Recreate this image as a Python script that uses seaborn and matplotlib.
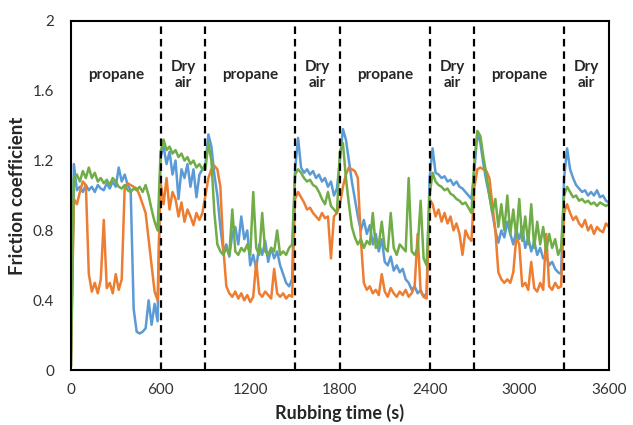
import numpy as np
import pandas as pd
import matplotlib
matplotlib.use('Agg')
import matplotlib.pyplot as plt
import seaborn as sns

# rubbing time, one reading every 20 s
time_s = list(range(0, 3601, 20))

# friction coefficient, one list per test
blue = [
    # 0-580 propane
    0.02, 1.18, 1.03, 1.05, 1.02, 1.06, 1.03, 1.05, 1.02, 1.06, 1.04, 1.03, 1.07, 1.04, 1.08,
    1.05, 1.16, 1.08, 1.12, 1.06, 1.03, 0.35, 0.22, 0.21, 0.22, 0.24, 0.40, 0.26, 0.38, 0.28,
    # 600-880 dry air
    1.22, 1.28, 1.18, 1.25, 1.12, 1.20, 0.98, 1.15, 1.10, 1.18, 1.05, 1.15, 0.99, 1.12, 1.15,
    # 900-1480 propane
    1.18, 1.35, 1.28, 1.12, 1.00, 0.82, 0.68, 0.72, 0.65, 0.78, 0.82, 0.72, 0.88, 0.75, 0.80,
    0.60, 0.66, 0.58, 0.72, 0.66, 0.74, 0.62, 0.70, 0.64, 0.68, 0.60, 0.55, 0.50, 0.48, 0.52,
    # 1500-1780 dry air
    1.15, 1.33, 1.16, 1.13, 1.15, 1.12, 1.14, 1.10, 1.12, 1.08, 1.10, 1.05, 1.08, 1.00, 1.04,
    # 1800-2380 propane
    1.20, 1.38, 1.32, 1.20, 1.08, 0.98, 0.88, 0.80, 0.86, 0.78, 0.83, 0.72, 0.78, 0.68, 0.75,
    0.62, 0.60, 0.65, 0.57, 0.60, 0.56, 0.58, 0.52, 0.50, 0.46, 0.48, 0.44, 0.46, 0.42, 0.44,
    # 2400-2680 dry air
    1.10, 1.27, 1.13, 1.12, 1.10, 1.11, 1.08, 1.09, 1.06, 1.08, 1.05, 1.04, 1.02, 1.00, 0.98,
    # 2700-3280 propane
    1.15, 1.36, 1.30, 1.18, 1.08, 1.00, 0.90, 0.80, 0.73, 0.80, 0.76, 0.85, 0.78, 0.72, 0.80,
    0.75, 0.82, 0.70, 0.76, 0.68, 0.74, 0.66, 0.70, 0.64, 0.66, 0.60, 0.62, 0.58, 0.56, 0.55,
    # 3300-3600 dry air
    1.10, 1.27, 1.15, 1.10, 1.06, 1.04, 1.02, 1.03, 1.00, 1.02, 1.00, 1.03, 0.99, 1.00, 0.97, 0.96,
]

orange = [
    0.02, 0.98, 0.95, 1.02, 1.08, 1.06, 0.55, 0.45, 0.50, 0.44, 0.52, 0.86, 0.47, 0.50, 0.44,
    0.55, 0.46, 0.52, 1.05, 1.07, 1.06, 1.05, 1.04, 1.00, 0.95, 0.90, 0.75, 0.60, 0.45, 0.40,
    1.08, 0.95, 1.10, 0.92, 1.02, 0.98, 0.88, 0.96, 0.85, 0.92, 0.88, 0.83, 0.90, 0.86, 0.90,
    1.00, 1.10, 1.15, 1.17, 1.15, 1.05, 0.70, 0.48, 0.44, 0.42, 0.45, 0.41, 0.44, 0.40, 0.43,
    0.39, 0.42, 0.62, 0.44, 0.42, 0.45, 0.43, 0.41, 0.58, 0.44, 0.42, 0.44, 0.41, 0.43, 0.42,
    0.98, 1.02, 0.99, 0.96, 0.92, 0.93, 0.90, 0.88, 0.86, 0.90, 0.87, 0.88, 0.64, 0.88, 0.90,
    0.95, 1.05, 1.12, 1.16, 1.15, 1.14, 1.10, 0.75, 0.50, 0.46, 0.48, 0.44, 0.46, 0.43, 0.55,
    0.45, 0.42, 0.47, 0.44, 0.42, 0.45, 0.43, 0.46, 0.42, 0.44, 0.48, 0.78, 0.45, 0.42, 0.41,
    0.98, 0.95, 0.88, 0.92, 0.85, 0.90, 0.84, 0.88, 0.80, 0.84, 0.78, 0.66, 0.80, 0.76, 0.74,
    1.05, 1.15, 1.16, 1.15, 1.14, 1.10, 0.95, 0.80, 0.56, 0.52, 0.50, 0.52, 0.50, 0.56, 0.76,
    0.72, 0.48, 0.50, 0.46, 0.62, 0.47, 0.45, 0.50, 0.46, 0.78, 0.48, 0.46, 0.50, 0.47, 0.48,
    0.90, 0.95, 0.90, 0.86, 0.88, 0.84, 0.82, 0.86, 0.80, 0.83, 0.78, 0.82, 0.80, 0.79, 0.84, 0.82,
]

green = [
    0.02, 1.10, 1.12, 1.08, 1.14, 1.10, 1.16, 1.10, 1.13, 1.08, 1.10, 1.07, 1.09, 1.06, 1.10,
    1.08, 1.05, 1.04, 1.06, 1.03, 1.02, 1.04, 1.03, 1.05, 1.02, 1.06, 1.00, 0.92, 0.85, 0.80,
    1.25, 1.32, 1.26, 1.28, 1.24, 1.26, 1.22, 1.24, 1.20, 1.22, 1.18, 1.20, 1.16, 1.18, 1.15,
    1.15, 1.30, 1.20, 0.90, 0.72, 0.68, 0.66, 0.70, 0.66, 0.92, 0.68, 0.66, 0.70, 0.68, 0.72,
    0.66, 1.02, 0.70, 0.66, 0.90, 0.68, 0.66, 0.70, 0.68, 0.80, 0.66, 0.68, 0.66, 0.70, 0.72,
    1.12, 1.15, 1.13, 1.10, 1.08, 1.09, 1.06, 1.05, 1.02, 0.98, 0.95, 1.02, 0.94, 0.92, 0.90,
    1.25, 1.30, 1.10, 0.95, 0.82, 0.76, 0.72, 0.75, 0.70, 0.74, 0.72, 0.90, 0.70, 0.72, 0.85,
    0.70, 0.68, 0.90, 0.70, 0.66, 0.72, 0.70, 0.68, 1.10, 0.68, 0.66, 0.70, 0.97, 0.64, 0.60,
    1.00, 1.13, 1.08, 1.06, 1.05, 1.03, 1.04, 1.01, 1.00, 0.98, 0.97, 0.95, 0.96, 0.93, 0.90,
    1.20, 1.37, 1.34, 1.22, 1.12, 1.00, 0.90, 0.98, 0.82, 0.95, 0.80, 1.00, 0.78, 0.92, 0.76,
    0.98, 0.74, 0.88, 0.72, 0.95, 0.70, 0.85, 0.72, 0.82, 0.68, 0.78, 0.70, 0.75, 0.66, 0.70,
    1.00, 1.05, 1.02, 0.99, 1.00, 0.97, 0.98, 0.96, 0.97, 0.95, 0.96, 0.94, 0.96, 0.95, 0.94, 0.95,
]

gas_switch_s = [600, 900, 1500, 1800, 2400, 2700, 3300]
propane_mid_s = [300, 1200, 2100, 3000]
dry_air_mid_s = [750, 1650, 2550, 3450]

df = pd.DataFrame({
    'time': time_s * 3,
    'mu': blue + orange + green,
    'run': ['blue'] * len(blue) + ['orange'] * len(orange) + ['green'] * len(green),
})

sns.set_style('white')
plt.rcParams['font.family'] = ['Lato', 'DejaVu Sans']

fig = plt.figure(figsize=(6.33, 4.25), dpi=100)
ax = fig.add_axes([0.112, 0.129, 0.850, 0.822])

sns.lineplot(data=df, x='time', y='mu', hue='run', ax=ax, legend=False,
             palette={'blue': '#5B9BD5', 'orange': '#ED7D31', 'green': '#70AD47'},
             linewidth=1.8)

for x in gas_switch_s:
    ax.axvline(x, color='black', lw=1.6, ls=(0, (3.4, 2.2)), zorder=5)

for x in propane_mid_s:
    ax.text(x, 1.69, 'propane', ha='center', va='center', fontsize=11, fontweight='bold')
for x in dry_air_mid_s:
    ax.text(x, 1.69, 'Dry\nair', ha='center', va='center', fontsize=11, fontweight='bold',
            linespacing=1.2)

ax.set_xlim(0, 3600)
ax.set_ylim(0, 2)
ax.set_xticks(range(0, 3601, 600))
ax.set_yticks([0, 0.4, 0.8, 1.2, 1.6, 2])
ax.set_yticklabels(['0', '0.4', '0.8', '1.2', '1.6', '2'])
ax.tick_params(axis='both', length=0, labelsize=11, colors='#333333')
ax.tick_params(axis='y', pad=12)
ax.tick_params(axis='x', pad=9)
for s in ax.spines.values():
    s.set_color('black')
    s.set_linewidth(1.5)

ax.set_xlabel('Rubbing time (s)', fontsize=13, fontweight='bold', labelpad=5)
ax.set_ylabel('Friction coefficient', fontsize=13.5, fontweight='bold', labelpad=5)

fig.savefig('out.png', dpi=100)
